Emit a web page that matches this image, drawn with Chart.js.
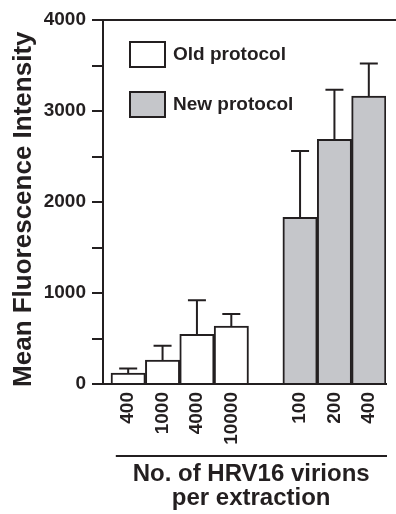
<!DOCTYPE html>
<html>
<head>
<meta charset="utf-8">
<script src="https://cdn.jsdelivr.net/npm/chart.js@4.4.1/dist/chart.umd.min.js"></script>
<style>
  html, body { margin: 0; padding: 0; background: #fff; }
  #wrap { width: 396px; height: 514px; }
</style>
</head>
<body>
<div id="wrap"><canvas id="chart"></canvas></div>
<script>
// virion counts per extraction, slot 4 is the empty gap between protocols
const doseLabels = ['400', '1000', '4000', '10000', '', '100', '200', '400'];

const oldSlots = [0, 1, 2, 3];
const oldValues = [121, 264, 545, 637];
const oldErrors = [50, 157, 374, 132];

const newSlots = [5, 6, 7];
const newValues = [1831, 2688, 3165];
const newErrors = [729, 546, 358];

const INK = '#231f20';
const FONT = "'Liberation Sans', Arial, Helvetica, sans-serif";

const toPoints = (slots, values) => slots.map((x, i) => ({ x: x, y: values[i] }));

// error bars, upward only
const errorBarPlugin = {
    id: 'errorBars',
    afterDatasetsDraw(chart) {
        const ctx = chart.ctx;
        const y = chart.scales.y;
        ctx.save();
        ctx.strokeStyle = INK;
        ctx.lineWidth = 2;
        chart.data.datasets.forEach((ds, di) => {
            const meta = chart.getDatasetMeta(di);
            meta.data.forEach((bar, i) => {
                const top = y.getPixelForValue(ds.data[i].y + ds.errorBars[i]);
                ctx.beginPath();
                ctx.moveTo(bar.x, bar.y);
                ctx.lineTo(bar.x, top);
                ctx.moveTo(bar.x - 9, top);
                ctx.lineTo(bar.x + 9, top);
                ctx.stroke();
            });
        });
        ctx.restore();
    }
};

// top frame line, line under the dose labels, and the boxed legend
const decorPlugin = {
    id: 'decor',
    afterDraw(chart) {
        const ctx = chart.ctx;
        const area = chart.chartArea;
        const x = chart.scales.x;
        ctx.save();
        ctx.strokeStyle = INK;
        ctx.lineWidth = 2;
        ctx.beginPath();
        ctx.moveTo(area.left, area.top);
        ctx.lineTo(chart.width, area.top);
        ctx.moveTo(x.getPixelForValue(-0.36), 456);
        ctx.lineTo(area.right + 1, 456);
        ctx.stroke();

        ctx.font = 'bold 19px ' + FONT;
        ctx.textBaseline = 'middle';
        ctx.textAlign = 'left';
        chart.data.datasets.forEach((ds, i) => {
            const bx = area.left + 27;
            const by = area.top + 22 + i * 50;
            ctx.fillStyle = ds.backgroundColor;
            ctx.fillRect(bx, by, 35, 25);
            ctx.strokeRect(bx, by, 35, 25);
            ctx.fillStyle = INK;
            ctx.fillText(ds.label, bx + 43, by + 13);
        });
        ctx.restore();
    }
};

const ctx = document.getElementById('chart').getContext('2d');
new Chart(ctx, {
    type: 'bar',
    data: {
        datasets: [{
            label: 'Old protocol',
            data: toPoints(oldSlots, oldValues),
            errorBars: oldErrors,
            backgroundColor: '#ffffff',
            borderColor: INK,
            borderWidth: 2,
            grouped: false,
            categoryPercentage: 1,
            barPercentage: 1
        }, {
            label: 'New protocol',
            data: toPoints(newSlots, newValues),
            errorBars: newErrors,
            backgroundColor: '#c5c6ca',
            borderColor: INK,
            borderWidth: 2,
            grouped: false,
            categoryPercentage: 1,
            barPercentage: 1
        }]
    },
    options: {
        responsive: true,
        maintainAspectRatio: false,
        animation: false,
        layout: { padding: { top: 20, right: 10, left: 0, bottom: 0 } },
        plugins: {
            legend: { display: false },
            tooltip: { enabled: false }
        },
        scales: {
            x: {
                type: 'linear',
                min: -0.7326,
                max: 7.5,
                offset: false,
                // one tick per slot
                afterBuildTicks: s => { s.ticks = doseLabels.map((_, i) => ({ value: i })); },
                afterFit: s => {
                    s.height = 130;
                    s.paddingLeft = 0;
                    s.paddingRight = 0;
                },
                grid: { display: false, drawTicks: false },
                border: { display: true, color: INK, width: 2 },
                ticks: {
                    autoSkip: false,
                    minRotation: 90,
                    maxRotation: 90,
                    padding: 8,
                    color: INK,
                    font: { family: FONT, size: 19, weight: 'bold' },
                    callback: v => doseLabels[v] || ''
                },
                title: {
                    display: true,
                    text: ['  No. of HRV16 virions', '  per extraction'],
                    color: INK,
                    padding: { top: 0, bottom: 4 },
                    font: { family: FONT, size: 24, weight: 'bold', lineHeight: 1.0 }
                }
            },
            y: {
                min: 0,
                max: 4000,
                afterFit: s => { s.width = 103; },
                grid: {
                    drawOnChartArea: false,
                    drawTicks: true,
                    tickLength: 11,
                    color: INK,
                    lineWidth: 2
                },
                border: { display: true, color: INK, width: 2 },
                ticks: {
                    stepSize: 500,
                    padding: 6,
                    color: INK,
                    font: { family: FONT, size: 19, weight: 'bold' },
                    callback: v => v % 1000 === 0 ? v : ''
                },
                title: {
                    display: true,
                    text: 'Mean Fluorescence Intensity  ',
                    color: INK,
                    padding: { top: 8, bottom: 0 },
                    font: { family: FONT, size: 26, weight: 'bold' }
                }
            }
        }
    },
    plugins: [errorBarPlugin, decorPlugin]
});
</script>
</body>
</html>
